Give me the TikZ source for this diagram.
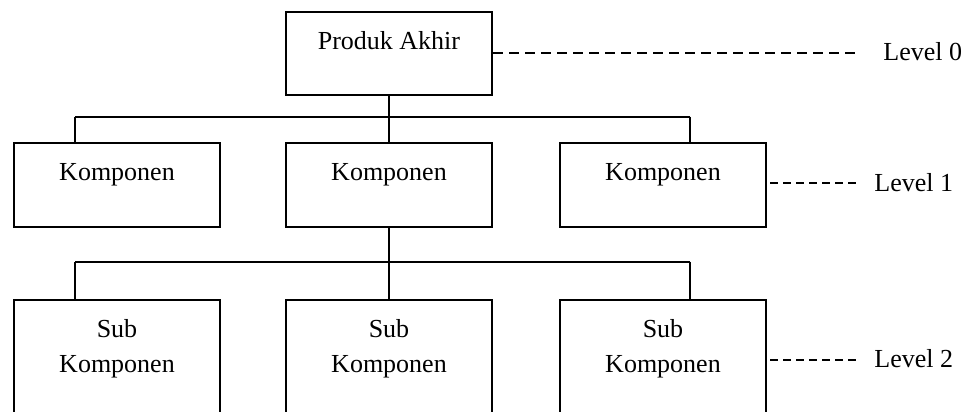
\documentclass[tikz,border=0pt]{standalone}
\usepackage{fontspec}
\setmainfont{Liberation Serif}
\begin{document}
\begin{tikzpicture}[
  x=0.5pt, y=-0.5pt,
  every node/.style={font=\fontsize{13}{17.5}\selectfont},
  block/.style={draw, line width=1.1pt, rectangle, inner sep=0pt,
    minimum width=103pt},
  link/.style={line width=1pt},
  lvlmain/.style={line width=1.3pt, dash pattern=on 5pt off 3pt},
  lvlsub/.style={line width=0.7pt, dash pattern=on 4pt off 2.5pt},
  lvltext/.style={inner sep=0pt, anchor=base west}
]
\useasboundingbox (0,0) rectangle (976,412);
\clip (0,0) rectangle (976,412);

% level 0
\node[block, minimum height=41.5pt] (top) at (389,53.5)
  {\raisebox{2.1pt}[0pt][0pt]{Produk Akhir}};

% level 1
\node[block, minimum height=42pt] (k1) at (117,185)
  {\raisebox{2.5pt}[0pt][0pt]{Komponen}};
\node[block, minimum height=42pt] (k2) at (389,185)
  {\raisebox{2.5pt}[0pt][0pt]{Komponen}};
\node[block, minimum height=42pt] (k3) at (663,185)
  {\raisebox{2.5pt}[0pt][0pt]{Komponen}};

% level 2
\node[block, minimum height=65pt] (s1) at (117,365)
  {\raisebox{14pt}[0pt][0pt]{\begin{tabular}[t]{@{}c@{}}Sub\\Komponen\end{tabular}}};
\node[block, minimum height=65pt] (s2) at (389,365)
  {\raisebox{14pt}[0pt][0pt]{\begin{tabular}[t]{@{}c@{}}Sub\\Komponen\end{tabular}}};
\node[block, minimum height=65pt] (s3) at (663,365)
  {\raisebox{14pt}[0pt][0pt]{\begin{tabular}[t]{@{}c@{}}Sub\\Komponen\end{tabular}}};

% bus lines between the levels
\coordinate (busA) at (389,116.5);
\coordinate (busAl) at (75,116.5);
\coordinate (busAr) at (690,116.5);
\coordinate (busB) at (389,261.5);
\coordinate (busBl) at (75,261.5);
\coordinate (busBr) at (690,261.5);

\draw[link] (top.south -| busA) -- (busA);
\draw[link] (busAl) -- (busAr);
\draw[link] (busAl) -- (k1.north -| busAl);
\draw[link] (busA) -- (k2.north -| busA);
\draw[link] (busAr) -- (k3.north -| busAr);

\draw[link] (k2.south -| busB) -- (busB);
\draw[link] (busBl) -- (busBr);
\draw[link] (busBl) -- (s1.north -| busBl);
\draw[link] (busB) -- (s2.north -| busB);
\draw[link] (busBr) -- (s3.north -| busBr);

% level labels
\node[lvltext] (lv0) at (883,61) {Level 0};
\node[lvltext] (lv1) at (874,191) {Level 1};
\node[lvltext] (lv2) at (874,367) {Level 2};

\coordinate (d0) at (855,53);
\coordinate (d1) at (860,183);
\coordinate (d2) at (860,360);

\draw[lvlmain] (top.east |- d0) -- (d0);
\draw[lvlsub] ([xshift=1.5pt]k3.east |- d1) -- (d1);
\draw[lvlsub] ([xshift=1.5pt]s3.east |- d2) -- (d2);
\end{tikzpicture}
\end{document}
